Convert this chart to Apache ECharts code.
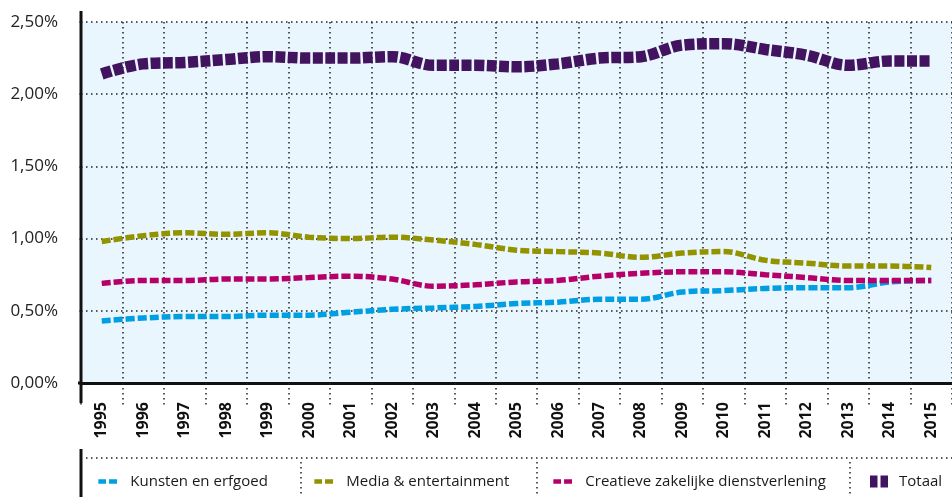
<!DOCTYPE html>
<html><head><meta charset="utf-8">
<script src="https://cdn.jsdelivr.net/npm/echarts@6/dist/echarts.min.js"></script>
<style>html,body{margin:0;padding:0;background:#fff}#c{width:952px;height:497px}</style>
</head><body><div id="c"></div>
<script>
const years = ['1995','1996','1997','1998','1999','2000','2001','2002','2003','2004','2005','2006','2007','2008','2009','2010','2011','2012','2013','2014','2015'];
const kunsten   = [0.43,0.45,0.46,0.46,0.47,0.47,0.49,0.51,0.52,0.53,0.55,0.56,0.58,0.58,0.63,0.64,0.655,0.66,0.66,0.70,0.71];
const media     = [0.98,1.02,1.04,1.03,1.04,1.01,1.00,1.01,0.99,0.96,0.92,0.91,0.90,0.87,0.90,0.91,0.85,0.83,0.81,0.81,0.80];
const creatieve = [0.69,0.71,0.71,0.72,0.72,0.73,0.74,0.72,0.67,0.68,0.70,0.71,0.74,0.76,0.77,0.77,0.75,0.73,0.71,0.71,0.71];
const totaal    = [2.14,2.21,2.22,2.24,2.26,2.25,2.25,2.26,2.20,2.20,2.19,2.21,2.25,2.26,2.34,2.35,2.31,2.27,2.20,2.23,2.23];
const names = ['Kunsten en erfgoed','Media & entertainment','Creatieve zakelijke dienstverlening','Totaal'];
const colors = ['#009fe3','#939300','#b5006a','#42145f'];

const FONT = 'Open Sans';
const dot = {color:'#222', width:1.5, type:[1.5,3.5]};
const chart = echarts.init(document.getElementById('c'));

function legendAt(i, left, thick){
  return {
    data:[names[i]], left:left, top:474, orient:'horizontal', padding:0,
    itemWidth: thick ? 24 : 27, itemHeight: 18,
    lineStyle: thick ? {width:12, type:[7.5,3,7.5,100], cap:'butt'} : {width:4.7, type:[7.7,3,8,100], cap:'butt'},
    itemStyle:{opacity:0},
    textStyle:{fontFamily:FONT, fontSize:15, color:'#1a1a1a'},
    selectedMode:false
  };
}

chart.setOption({
  animation:false,
  grid:{left:81, top:22, right:-5, bottom:114, show:true, backgroundColor:'#eaf6fd', borderWidth:0},
  xAxis:{
    type:'category', data:years, boundaryGap:true,
    axisLine:{show:true, lineStyle:{color:'#111', width:3}},
    axisTick:{show:true, length:22, lineStyle:dot},
    splitLine:{show:true, lineStyle:dot},
    axisLabel:{rotate:90, margin:19, fontFamily:FONT, fontWeight:'bold', fontSize:16, color:'#111', interval:0}
  },
  yAxis:{
    type:'value', min:0, max:2.5, interval:0.5,
    axisLine:{show:false},
    axisTick:{show:true, length:4, lineStyle:dot},
    splitLine:{show:true, lineStyle:dot},
    axisLabel:{margin:23, fontFamily:FONT, fontSize:17, color:'#222',
      formatter:v=>v.toFixed(2).replace('.',',')+'%'}
  },
  legend:[legendAt(0,96,false), legendAt(1,312,false), legendAt(2,551,false), legendAt(3,864,true)],
  series:[
    {name:names[0], type:'line', data:kunsten, smooth:0.35, symbol:'none', z:3, itemStyle:{color:colors[0]}, lineStyle:{color:colors[0], width:5.5, type:[9,3]}},
    {name:names[1], type:'line', data:media, smooth:0.35, symbol:'none', z:3, itemStyle:{color:colors[1]}, lineStyle:{color:colors[1], width:5.5, type:[9,3]}},
    {name:names[2], type:'line', data:creatieve, smooth:0.35, symbol:'none', z:3, itemStyle:{color:colors[2]}, lineStyle:{color:colors[2], width:5.5, type:[9,3]}},
    {name:names[3], type:'line', data:totaal, smooth:0.35, symbol:'none', z:3, itemStyle:{color:colors[3]}, lineStyle:{color:colors[3], width:11.5, type:[10,2.5]}}
  ],
  graphic:[
    {type:'line', z:10, shape:{x1:81,y1:11,x2:81,y2:403}, style:{stroke:'#111', lineWidth:3}},
    {type:'line', z:10, shape:{x1:78,y1:383,x2:81,y2:383}, style:{stroke:'#111', lineWidth:3}},
    {type:'line', z:10, shape:{x1:81,y1:449,x2:81,y2:497}, style:{stroke:'#111', lineWidth:3}},
    {type:'line', z:10, shape:{x1:86,y1:458,x2:952,y2:458}, style:{stroke:'#222', lineWidth:1.5, lineDash:[1.5,3.5]}},
    {type:'line', z:10, shape:{x1:301,y1:462,x2:301,y2:497}, style:{stroke:'#222', lineWidth:1.5, lineDash:[1.5,3.5]}},
    {type:'line', z:10, shape:{x1:537,y1:462,x2:537,y2:497}, style:{stroke:'#222', lineWidth:1.5, lineDash:[1.5,3.5]}},
    {type:'line', z:10, shape:{x1:850,y1:462,x2:850,y2:497}, style:{stroke:'#222', lineWidth:1.5, lineDash:[1.5,3.5]}}
  ]
});
</script></body></html>
